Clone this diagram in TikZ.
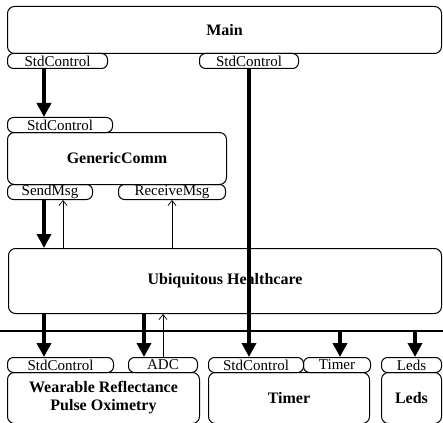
\documentclass[tikz,border=0pt]{standalone}
\usepackage{fontspec}
\setmainfont{Liberation Serif}
\usetikzlibrary{arrows.meta}

\tikzset{
  comp/.style={draw, line width=1pt, rounded corners=7pt, anchor=north west, inner sep=0pt, align=center, font=\fontsize{16}{18}\selectfont\bfseries},
  iface/.style={draw, line width=1pt, rounded corners=6pt, anchor=north west, inner sep=0pt, minimum height=15pt, font=\fontsize{15}{16}\selectfont},
  callarrow/.style={line width=3.5pt, -{Triangle[width=14pt,length=14pt]}},
  sigarrow/.style={line width=0.7pt, -{Straight Barb[width=8pt,length=5pt]}}
}

\begin{document}
\begin{tikzpicture}[x=1pt, y=-1pt]
  \useasboundingbox (0,0) rectangle (443,422);
  \node[comp, minimum width=434, minimum height=47] (main) at (7,6) {Main};
  \node[iface, minimum width=100] (mainsc) at (7,53) {StdControl};
  \node[iface, minimum width=99] (mainsc2) at (199,53) {StdControl};

  \node[iface, minimum width=105] (gcsc) at (7,117) {StdControl};
  \node[comp, minimum width=219, minimum height=52] (gc) at (7,132) {GenericComm};
  \node[iface, minimum width=85] (gcsend) at (7,184) {SendMsg};
  \node[iface, minimum width=107] (gcrecv) at (118,184) {ReceiveMsg};

  \node[comp, minimum width=433, minimum height=65] (uh) at (8,248) {Ubiquitous Healthcare};

  \node[iface, minimum width=106] (wrsc) at (7,357) {StdControl};
  \node[iface, minimum width=69] (wradc) at (128,357) {ADC};
  \node[iface, minimum width=95] (tmsc) at (208,357) {StdControl};
  \node[iface, minimum width=67] (tmtimer) at (303,357) {Timer};
  \node[iface, minimum width=60] (ledsif) at (381,357) {Leds};
  \node[comp, minimum width=192, minimum height=51] (wr) at (7,372) {Wearable Reflectance\\Pulse Oximetry};
  \node[comp, minimum width=161, minimum height=51] (tm) at (208,372) {Timer};
  \node[comp, minimum width=60, minimum height=51] (leds) at (381,372) {Leds};

  \coordinate (busL) at (0,331);
  \coordinate (busR) at (443,331);
  \draw[line width=2.2pt] (busL) -- (busR);

  \coordinate (colA) at (44,0);
  \coordinate (colB) at (63,0);
  \coordinate (colC) at (172,0);
  \coordinate (colD) at (144,0);
  \coordinate (colE) at (163,0);
  \coordinate (colF) at (340,0);
  \coordinate (colG) at (415,0);

  \draw[callarrow] (colA |- mainsc.south) -- (colA |- gcsc.north);
  \draw[callarrow] (colA |- gcsend.south) -- (colA |- uh.north);
  \draw[sigarrow] (colB |- uh.north) -- (colB |- gcsend.south);
  \draw[sigarrow] (colC |- uh.north) -- (colC |- gcrecv.south);
  \draw[callarrow] (mainsc2.south) -- (mainsc2.south |- tmsc.north);

  \draw[callarrow] (colA |- uh.south) -- (colA |- wrsc.north);
  \draw[callarrow] (colD |- uh.south) -- (colD |- wradc.north);
  \draw[sigarrow] (colE |- wradc.north) -- (colE |- uh.south);
  \draw[callarrow] (colF |- busL) -- (colF |- tmtimer.north);
  \draw[callarrow] (colG |- busL) -- (colG |- ledsif.north);
\end{tikzpicture}
\end{document}
